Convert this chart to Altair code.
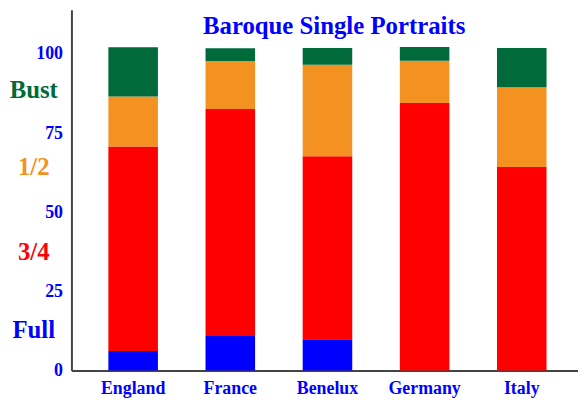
import altair as alt
import pandas as pd

countries = ["England", "France", "Benelux", "Germany", "Italy"]
types = ["Full", "3/4", "1/2", "Bust"]
full = [6.2, 10.9, 9.9, 0.0, 0.0]
three_quarter = [64.6, 71.7, 57.8, 84.5, 64.3]
half = [15.8, 15.2, 28.9, 13.4, 25.2]
bust = [15.5, 4.0, 5.3, 4.3, 12.4]
colors = ["#0000ff", "#ff0000", "#f39220", "#006a3b"]
y_ticks = [0, 25, 50, 75, 100]

rows = []
for i, c in enumerate(countries):
    for k, (t, vals) in enumerate(zip(types, [full, three_quarter, half, bust])):
        rows.append({"country": c, "type": t, "value": vals[i], "ord": k})
df = pd.DataFrame(rows)

FONT = "Liberation Serif"

bars = alt.Chart(df).mark_bar().encode(
    x=alt.X("country:N", sort=countries,
            scale=alt.Scale(paddingInner=0.49, paddingOuter=0.352, align=0.54),
            axis=alt.Axis(title=None, labelAngle=0, ticks=False, domainColor="#444444",
                          domainWidth=2, labelFont=FONT, labelFontWeight="bold",
                          labelFontSize=18, labelColor="#0000ff", labelPadding=9)),
    y=alt.Y("value:Q", stack="zero",
            scale=alt.Scale(domain=[0, 114], nice=False),
            axis=alt.Axis(title=None, values=y_ticks, ticks=False, grid=False,
                          domainColor="#444444", domainWidth=2, labelFont=FONT,
                          labelFontWeight="bold", labelFontSize=18,
                          labelColor="#0000ff", labelPadding=9)),
    color=alt.Color("type:N", scale=alt.Scale(domain=types, range=colors), legend=None),
    order=alt.Order("ord:Q"),
)

dummy = pd.DataFrame({"a": [0]})

title = alt.Chart(dummy).mark_text(
    text="Baroque Single Portraits", font=FONT, fontWeight="bold", fontSize=25,
    color="#0000ff", align="center", baseline="alphabetic"
).encode(x=alt.value(265), y=alt.value(25))

legend_layers = []
for label, col, ypos in [("Bust", colors[3], 81), ("1/2", colors[2], 158.5),
                         ("3/4", colors[1], 244.5), ("Full", colors[0], 323.5)]:
    legend_layers.append(
        alt.Chart(dummy).mark_text(
            text=label, font=FONT, fontWeight="bold", fontSize=25, color=col,
            align="center", baseline="middle"
        ).encode(x=alt.value(-38), y=alt.value(ypos))
    )

chart = alt.layer(bars, title, *legend_layers).properties(
    width=511, height=364,
    autosize=alt.AutoSizeParams(type="none"),
    padding={"left": 64, "top": 0, "right": 0, "bottom": 28},
).configure_view(stroke=None)

chart.save("out.html", embed_options={"renderer": "svg", "actions": False})
